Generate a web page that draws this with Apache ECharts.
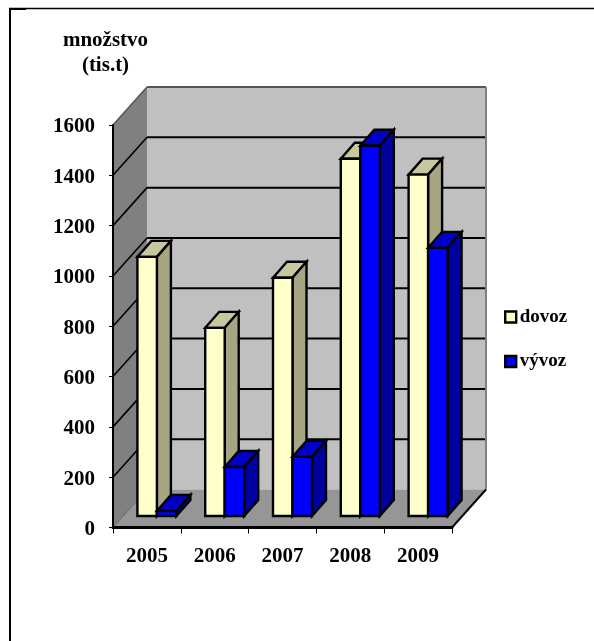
<!DOCTYPE html>
<html><head><meta charset="utf-8">
<script src="https://cdn.jsdelivr.net/npm/echarts@6/dist/echarts.min.js"></script>
<style>html,body{margin:0;padding:0;background:#fff}#c{width:594px;height:641px}</style>
</head><body><div id="c"></div>
<script>
const categories = ['2005','2006','2007','2008','2009'];
const dovoz = [1030, 748, 947, 1420, 1357];
const vyvoz = [20, 195, 235, 1472, 1066];
const yTicks = [0,200,400,600,800,1000,1200,1400,1600];
const yTitle = 'množstvo\n(tis.t)';
const FONT = '"Liberation Serif", "Times New Roman", serif';
const wallDepth = [34, -38], barShift = [10, -11.5], barDepth = [14, -16];
const fill = {
  dovoz: ['#ffffcc', '#c8c8a0', '#a6a682'],
  vyvoz: ['#0000ff', '#0000c8', '#0000a0']
};
const poly = (points, f, stroke, lw) => ({type:'polygon', shape:{points}, style:{fill:f, stroke:stroke||'none', lineWidth:lw||0, lineJoin:'miter'}});
const line = (a, b, stroke, lw) => ({type:'line', shape:{x1:a[0],y1:a[1],x2:b[0],y2:b[1]}, style:{stroke, lineWidth:lw}});
const add = (p, d) => [p[0]+d[0], p[1]+d[1]];

function wallRender(params, api) {
  const band = api.size([1,0])[0];
  const n = categories.length;
  const lo = v => { const c = api.coord([0, v]); return [c[0]-band/2, c[1]]; };
  const hi = v => { const c = api.coord([n-1, v]); return [c[0]+band/2, c[1]]; };
  const top = yTicks[yTicks.length-1];
  const kids = [];
  kids.push(poly([lo(0), add(lo(0),wallDepth), add(lo(top),wallDepth), lo(top)], '#808080'));
  kids.push(poly([add(lo(0),wallDepth), add(hi(0),wallDepth), add(hi(top),wallDepth), add(lo(top),wallDepth)], '#c0c0c0'));
  kids.push(poly([lo(0), hi(0), add(hi(0),wallDepth), add(lo(0),wallDepth)], '#969696'));
  yTicks.slice(1,-1).forEach(v => {
    kids.push(line(add(lo(v),wallDepth), add(hi(v),wallDepth), '#000', 2));
    kids.push(line(lo(v), add(lo(v),wallDepth), '#000', 1.6));
  });
  kids.push(line(lo(top), add(lo(top),wallDepth), '#555', 1.5));
  kids.push(line(add(lo(top),wallDepth), add(hi(top),wallDepth), '#555', 2));
  kids.push(line(add(hi(top),wallDepth), add(hi(0),wallDepth), '#808080', 2));
  kids.push(line(add(lo(0),wallDepth), lo(0), '#666', 1));
  kids.push(line(hi(0), add(hi(0),wallDepth), '#000', 2));
  return {type:'group', children:kids};
}
function barRender(colors, slot) {
  return function(params, api) {
    const band = api.size([1,0])[0];
    const w = band * 0.2875;
    const c0 = api.coord([api.value(0), 0]);
    const c1 = api.coord([api.value(0), api.value(1)]);
    const x0 = c0[0] + (slot-1)*w + barShift[0];
    const x1 = x0 + w;
    const yb = c0[1] + barShift[1], yt = c1[1] + barShift[1];
    const A=[x0,yb], B=[x1,yb], C=[x1,yt], D=[x0,yt];
    return {type:'group', children:[
      poly([D,C,add(C,barDepth),add(D,barDepth)], colors[1], '#000', 2.4),
      poly([B,add(B,barDepth),add(C,barDepth),C], colors[2], '#000', 2.4),
      poly([A,B,C,D], colors[0], '#000', 2.4)
    ]};
  };
}
const chart = echarts.init(document.getElementById('c'), null, {renderer:'canvas'});
chart.setOption({
  animation:false,
  backgroundColor:'#fff',
  textStyle:{fontFamily:FONT},
  title:{text:yTitle, left:100.5, top:23, textAlign:'center', textStyle:{fontFamily:FONT,fontWeight:'bold',fontSize:21,lineHeight:25,color:'#000'}},
  graphic:[
    {type:'line', shape:{x1:9,y1:8.5,x2:594,y2:8.5}, style:{stroke:'#000',lineWidth:1.3}},
    {type:'line', shape:{x1:9,y1:9,x2:26,y2:9}, style:{stroke:'#000',lineWidth:2}},
    {type:'line', shape:{x1:10,y1:8,x2:10,y2:641}, style:{stroke:'#000',lineWidth:2}}
  ],
  grid:{left:113, top:125, width:339, height:402.5},
  xAxis:{type:'category', data:categories, z:6,
    axisLine:{onZero:false, lineStyle:{color:'#000',width:3}},
    axisTick:{show:true, length:6, alignWithLabel:false, lineStyle:{color:'#000',width:1}},
    axisLabel:{color:'#000',fontFamily:FONT,fontWeight:'bold',fontSize:21,margin:19}},
  yAxis:{type:'value', min:0, max:1600, interval:200, z:6,
    splitLine:{show:false},
    axisLine:{show:true, lineStyle:{color:'#000',width:2}},
    axisTick:{show:true, length:4, lineStyle:{color:'#000',width:1}},
    axisLabel:{color:'#000',fontFamily:FONT,fontWeight:'bold',fontSize:21,margin:18,verticalAlign:'top',lineHeight:4,formatter:v=>String(v)}},
  legend:{orient:'vertical', left:499, top:302.5, itemWidth:11, itemHeight:11, itemGap:25.5, icon:'rect',
    textStyle:{fontFamily:FONT,fontWeight:'bold',fontSize:19,color:'#000',padding:[0,0,0,-1.5]},
    data:[
      {name:'dovoz', itemStyle:{color:fill.dovoz[0],borderColor:'#000',borderWidth:2.4}},
      {name:'vývoz', itemStyle:{color:fill.vyvoz[0],borderColor:'#000',borderWidth:2.4}}
    ]},
  series:[
    {type:'custom', name:'walls', silent:true, z:1, clip:false, renderItem:wallRender, data:[[0,0]], encode:{x:0,y:1}},
    {type:'custom', name:'dovoz', z:2, clip:false, renderItem:barRender(fill.dovoz,0), encode:{x:0,y:1},
      itemStyle:{color:fill.dovoz[0]}, data:dovoz.map((v,i)=>[i,v])},
    {type:'custom', name:'vývoz', z:3, clip:false, renderItem:barRender(fill.vyvoz,1), encode:{x:0,y:1},
      itemStyle:{color:fill.vyvoz[0]}, data:vyvoz.map((v,i)=>[i,v])}
  ]
});
</script></body></html>
